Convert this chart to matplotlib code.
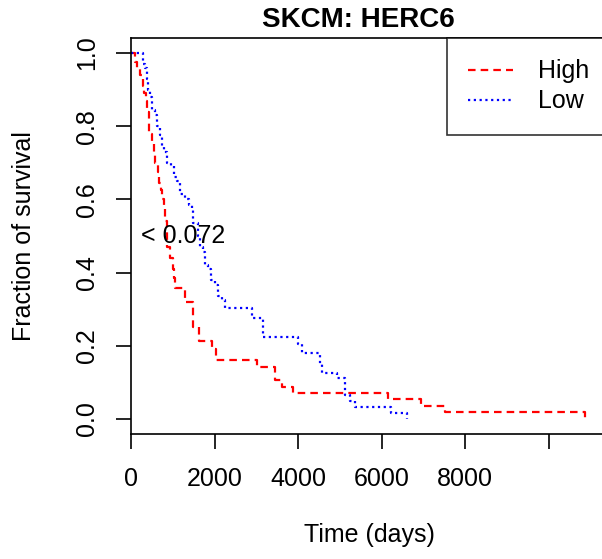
import matplotlib
matplotlib.use("Agg")
import matplotlib.pyplot as plt

plt.rcParams['font.family'] = ['Liberation Sans', 'DejaVu Sans']

# Kaplan-Meier steps (days, fraction surviving)
high_t = [0, 96, 150, 216, 280, 311, 360, 383, 420, 443, 503, 540, 575, 640, 670,
          710, 742, 790, 814, 853, 940, 1000, 1030, 1060, 1293, 1473, 1630, 1933,
          2036, 3010, 3449, 3609, 3880, 6155, 6945, 7520, 10873]
high_s = [1.0, 0.975, 0.955, 0.94, 0.91, 0.89, 0.87, 0.84, 0.81, 0.78, 0.755, 0.73,
          0.70, 0.675, 0.645, 0.625, 0.60, 0.575, 0.54, 0.47, 0.44, 0.41, 0.385,
          0.358, 0.32, 0.25, 0.214, 0.19, 0.161, 0.141, 0.107, 0.088, 0.072, 0.054,
          0.036, 0.018, 0.0]

low_t = [0, 295, 340, 380, 407, 460, 503, 570, 623, 690, 742, 800, 862, 950, 1030,
         1100, 1174, 1300, 1389, 1450, 1485, 1600, 1653, 1720, 1772, 1850, 1916,
         2000, 2084, 2180, 2251, 2898, 3161, 4000, 4100, 4527, 4580, 4935, 5125,
         5245, 5365, 6230, 6611]
low_s = [1.0, 0.97, 0.96, 0.93, 0.90, 0.88, 0.845, 0.83, 0.80, 0.775, 0.745, 0.73,
         0.70, 0.69, 0.66, 0.65, 0.615, 0.60, 0.585, 0.57, 0.535, 0.50, 0.47, 0.455,
         0.42, 0.41, 0.38, 0.365, 0.335, 0.325, 0.303, 0.276, 0.224, 0.205, 0.18,
         0.15, 0.127, 0.112, 0.065, 0.05, 0.032, 0.016, 0.0]

xticks = [0, 2000, 4000, 6000, 8000, 10000]
xticklabels = ['0', '2000', '4000', '6000', '8000', '']
yticks = [0.0, 0.2, 0.4, 0.6, 0.8, 1.0]

fs = 18

fig = plt.figure(figsize=(6.02, 5.59), dpi=100)
ax = fig.add_axes([131/602, 1-434/559, 476/602, 396/559])

ax.step(high_t, high_s, where='post', color='red', lw=1.6, dashes=(3.4, 2.3), label='High')
ax.step(low_t, low_s, where='post', color='blue', lw=1.6, dashes=(1.0, 1.6), label='Low')

ax.set_xlim(0, 11400)
ax.set_ylim(-0.041, 1.041)
ax.set_xticks(xticks)
ax.set_xticklabels(xticklabels)
ax.set_yticks(yticks)
ax.set_yticklabels(['%.1f' % v for v in yticks])
for lab in ax.get_yticklabels():
    lab.set_rotation(90)
    lab.set_va('center')

ax.tick_params(direction='out', length=10.8, width=1.2, labelsize=fs)
ax.tick_params(axis='x', pad=13)
ax.tick_params(axis='y', pad=12)
for sp in ax.spines.values():
    sp.set_linewidth(1.2)

ax.text(1260, 0.5, '< 0.072', fontsize=fs, ha='center', va='center')

ax.set_xlabel('Time (days)', fontsize=fs)
ax.xaxis.set_label_coords(0.5, -0.226)
ax.xaxis.label.set_va('top')
ax.set_ylabel('Fraction of survival', fontsize=fs)
ax.yaxis.set_label_coords(-0.2, 0.5)

fig.text(358/602, 1-20/559, 'SKCM: HERC6', fontsize=20, fontweight='bold',
         ha='center', va='center')

leg = ax.legend(loc='upper left', bbox_to_anchor=(447/602, 1-38/559),
                bbox_transform=fig.transFigure, fontsize=fs, frameon=True,
                fancybox=False, borderpad=0.85, handlelength=1.8, handletextpad=1.0,
                labelspacing=0.25, borderaxespad=0)
leg.get_frame().set_edgecolor('black')
leg.get_frame().set_linewidth(1.2)

fig.savefig('out.png', dpi=100)
